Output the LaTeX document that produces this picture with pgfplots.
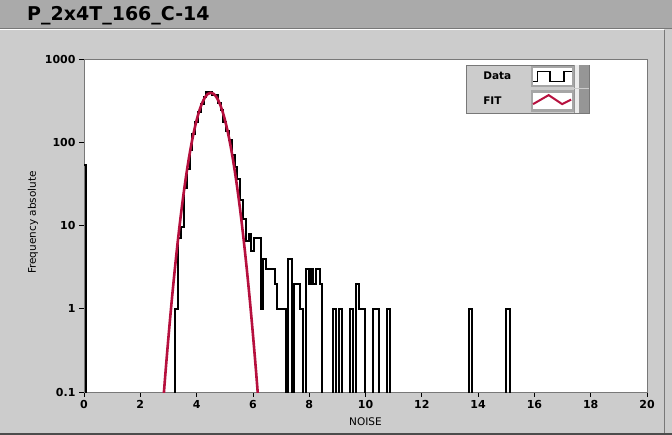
\documentclass[border=0pt]{standalone}
\usepackage{pgfplots}
\pgfplotsset{compat=1.18}
\usepackage{fontspec}
\setmainfont{DejaVu Sans}
\definecolor{panel}{RGB}{204,204,204}
\definecolor{titlebar}{RGB}{170,170,170}
\definecolor{fitred}{RGB}{182,16,62}
\definecolor{framegray}{RGB}{120,120,120}
\definecolor{bargray}{RGB}{150,150,150}

\begin{document}
\begin{tikzpicture}
\useasboundingbox (0,0) rectangle (672bp,435bp);
\fill[panel] (0,0) rectangle (672bp,435bp);
\fill[titlebar] (0,407bp) rectangle (672bp,435bp);
\draw[framegray, line width=1bp] (0,406.5bp) -- (672bp,406.5bp);
\draw[white, line width=1bp] (0,405.5bp) -- (664bp,405.5bp);
\draw[framegray, line width=1bp] (664.5bp,2bp) -- (664.5bp,405bp);
\draw[black!70, line width=1.5bp] (0,1bp) -- (672bp,1bp);
\node[anchor=base west, inner sep=0pt, font=\fontsize{19bp}{22bp}\selectfont\bfseries] at (27bp,414.5bp) {P\_2x4T\_166\_C-14};

\begin{axis}[
  at={(84bp,43bp)}, anchor=south west,
  scale only axis, width=563bp, height=333bp,
  xmin=0, xmax=20, ymin=0.1, ymax=1000, ymode=log,
  axis background/.style={fill=white},
  axis line style={framegray, line width=0.8bp},
  tick pos=left, tick align=outside, major tick length=5bp,
  tick style={black, line width=0.8bp},
  xtick={0,2,4,6,8,10,12,14,16,18,20},
  xticklabels={0,2,4,6,8,10,12,14,16,18,20},
  ytick={0.1,1,10,100,1000},
  yticklabels={0.1,1,10,100,1000},
  yminorticks=false, xminorticks=false,
  /pgf/number format/assume math mode=true,
  ticklabel style={font=\fontsize{11bp}{13bp}\selectfont\bfseries},
  xlabel={NOISE}, ylabel={Frequency absolute},
  label style={font=\fontsize{10.5bp}{12bp}\selectfont},
  xlabel style={at={(axis description cs:0.5,-0.0901)}, anchor=center},
  ylabel style={at={(axis description cs:-0.0906,0.509)}, anchor=center},
  legend plot pos=right,
  legend cell align=left,
  legend style={at={(axis description cs:0.6785,0.982)}, anchor=north west,
    fill=panel, draw=framegray, line width=0.6bp, inner sep=0bp, row sep=1bp,
    font=\fontsize{10.5bp}{12bp}\selectfont\bfseries},
]
\addplot[const plot, black, line width=2bp,
  legend image code/.code={
    \fill[white, draw=gray!70] (0bp,-9.5bp) rectangle (41bp,9.5bp);
    \draw[black, line width=1.3bp] (1bp,-5bp) -- (5.5bp,-5bp) -- (5.5bp,5bp) -- (18bp,5bp) -- (18bp,-5bp) -- (32bp,-5bp) -- (32bp,5bp) -- (40bp,5bp);
    \fill[bargray] (43bp,-10.5bp) rectangle (56bp,10.5bp);
    \fill[white!85!gray] (44bp,-10.5bp) rectangle (46bp,10.5bp);
  }] coordinates {
(-0.05,54) (0.07,0.001) (3.25,1) (3.35,7) (3.45,9.5) (3.55,28) (3.65,48) (3.75,80)
(3.85,125) (3.95,175) (4.05,230) (4.15,290) (4.25,350) (4.35,400) (4.45,405) (4.55,372)
(4.65,365) (4.75,300) (4.85,245) (4.95,175) (5.05,135) (5.15,105) (5.25,70) (5.35,50)
(5.45,36) (5.55,20) (5.65,12) (5.75,6.5) (5.85,8) (5.95,5) (6.05,7) (6.15,7)
(6.27,1) (6.37,4) (6.47,3) (6.77,2) (6.87,1) (7.17,0.001) (7.25,4) (7.4,0.001)
(7.47,2) (7.67,1) (7.78,0.001) (7.87,3) (7.98,2) (8.05,3) (8.15,2) (8.25,3)
(8.37,2) (8.47,0.001) (8.86,1) (8.96,0.001) (9.06,1) (9.18,0.001) (9.46,1) (9.57,0.001)
(9.66,2) (9.76,1) (9.97,0.001) (10.27,1) (10.47,0.001) (10.77,1) (10.86,0.001)
(13.67,1) (13.78,0.001) (14.98,1) (15.15,0.001) (20,0.001)
};
\addlegendentry{\hspace*{15bp}\makebox[45.5bp][l]{Data}}
\addplot[smooth, fitred, line width=2.6bp,
  legend image code/.code={
    \fill[white, draw=gray!70] (0bp,-9.5bp) rectangle (41bp,9.5bp);
    \draw[fitred, line width=2bp] (1bp,-3bp) -- (16.6bp,6bp) -- (30bp,-3bp) -- (39bp,1.5bp);
    \fill[bargray] (43bp,-10.5bp) rectangle (56bp,10.5bp);
    \fill[white!85!gray] (44bp,-10.5bp) rectangle (46bp,10.5bp);
  }] coordinates {
(2.8,0.067) (2.9,0.180) (3.0,0.455) (3.1,1.085) (3.2,2.43) (3.3,5.15) (3.4,10.27)
(3.5,19.28) (3.6,34.1) (3.7,56.8) (3.8,89.1) (3.9,131.8) (4.0,183.6) (4.1,240.9)
(4.2,297.7) (4.3,346.7) (4.4,380.3) (4.5,393) (4.6,382.5) (4.7,350.8) (4.8,303.1)
(4.9,246.7) (5.0,189.1) (5.1,136.6) (5.2,92.9) (5.3,59.6) (5.4,36.0) (5.5,20.5)
(5.6,10.97) (5.7,5.53) (5.8,2.63) (5.9,1.18) (6.0,0.497) (6.1,0.198) (6.2,0.074)
};
\addlegendentry{\hspace*{15bp}\makebox[45.5bp][l]{FIT}}
\end{axis}
\end{tikzpicture}
\end{document}
